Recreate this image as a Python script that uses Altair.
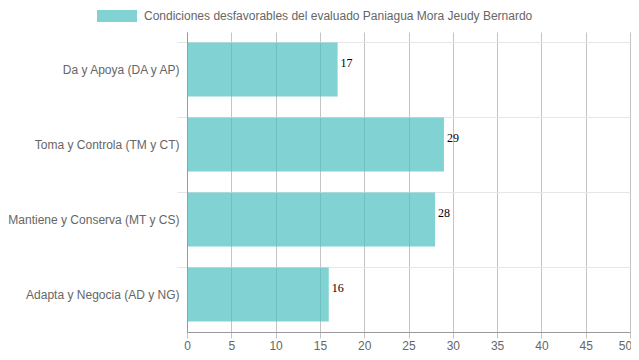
import altair as alt
import pandas as pd

categories = ["Da y Apoya (DA y AP)", "Toma y Controla (TM y CT)",
              "Mantiene y Conserva (MT y CS)", "Adapta y Negocia (AD y NG)"]
values = [17, 29, 28, 16]
series_name = "Condiciones desfavorables del evaluado Paniagua Mora Jeudy Bernardo"
x_ticks = [0, 5, 10, 15, 20, 25, 30, 35, 40, 45, 50]

df = pd.DataFrame({"cat": categories, "val": values, "serie": [series_name] * len(categories)})

y_enc = alt.Y("cat:N", sort=categories, title=None,
              scale=alt.Scale(paddingInner=0.28, paddingOuter=0.14),
              axis=alt.Axis(labelFont="Liberation Sans", labelFontSize=12, labelColor="#666666",
                            tickSize=10, labelPadding=-2, tickColor="#e6e6e6", gridColor="#e6e6e6",
                            grid=True, bandPosition=0, domainColor="#999999", labelLimit=300))
x_enc = alt.X("val:Q", title=None,
              scale=alt.Scale(domain=[0, 50], nice=False),
              axis=alt.Axis(values=x_ticks, labelFont="Liberation Sans", labelFontSize=12,
                            labelColor="#666666", tickSize=6, labelPadding=2,
                            gridColor="#c4c4c4", tickColor="#c4c4c4", domainColor="#999999",
                            labelFlush=False,
                            labelOffset={"condition": {"test": "datum.value == 50", "value": -5},
                                         "value": 0}))

bars = alt.Chart(df).mark_bar(opacity=0.7).encode(
    x=x_enc, y=y_enc,
    color=alt.Color("serie:N", title=None,
                    scale=alt.Scale(range=["rgb(75,192,192)"]),
                    legend=alt.Legend(orient="none", legendX=-90, legendY=-36, padding=0,
                                      symbolType="M-1,-0.3L1,-0.3L1,0.3L-1,0.3Z", symbolSize=1600,
                                      symbolOpacity=0.7, symbolStrokeWidth=0,
                                      labelFont="Liberation Sans", labelFontSize=12,
                                      labelColor="#666666", labelOffset=7, labelLimit=600))
)

labels = alt.Chart(df).mark_text(align="left", baseline="alphabetic", dx=3, dy=-3,
                                  font="Liberation Serif", fontSize=12, color="#000000").encode(
    x="val:Q", y=alt.Y("cat:N", sort=categories), text="val:Q"
)

chart = alt.layer(bars, labels).properties(
    width=443, height=300,
    padding={"left": 179, "top": 24, "right": 1, "bottom": 20},
    autosize=alt.AutoSizeParams(type="none"),
).configure_view(stroke=None)

chart.save("out.html", embed_options={"renderer": "svg", "actions": False})
